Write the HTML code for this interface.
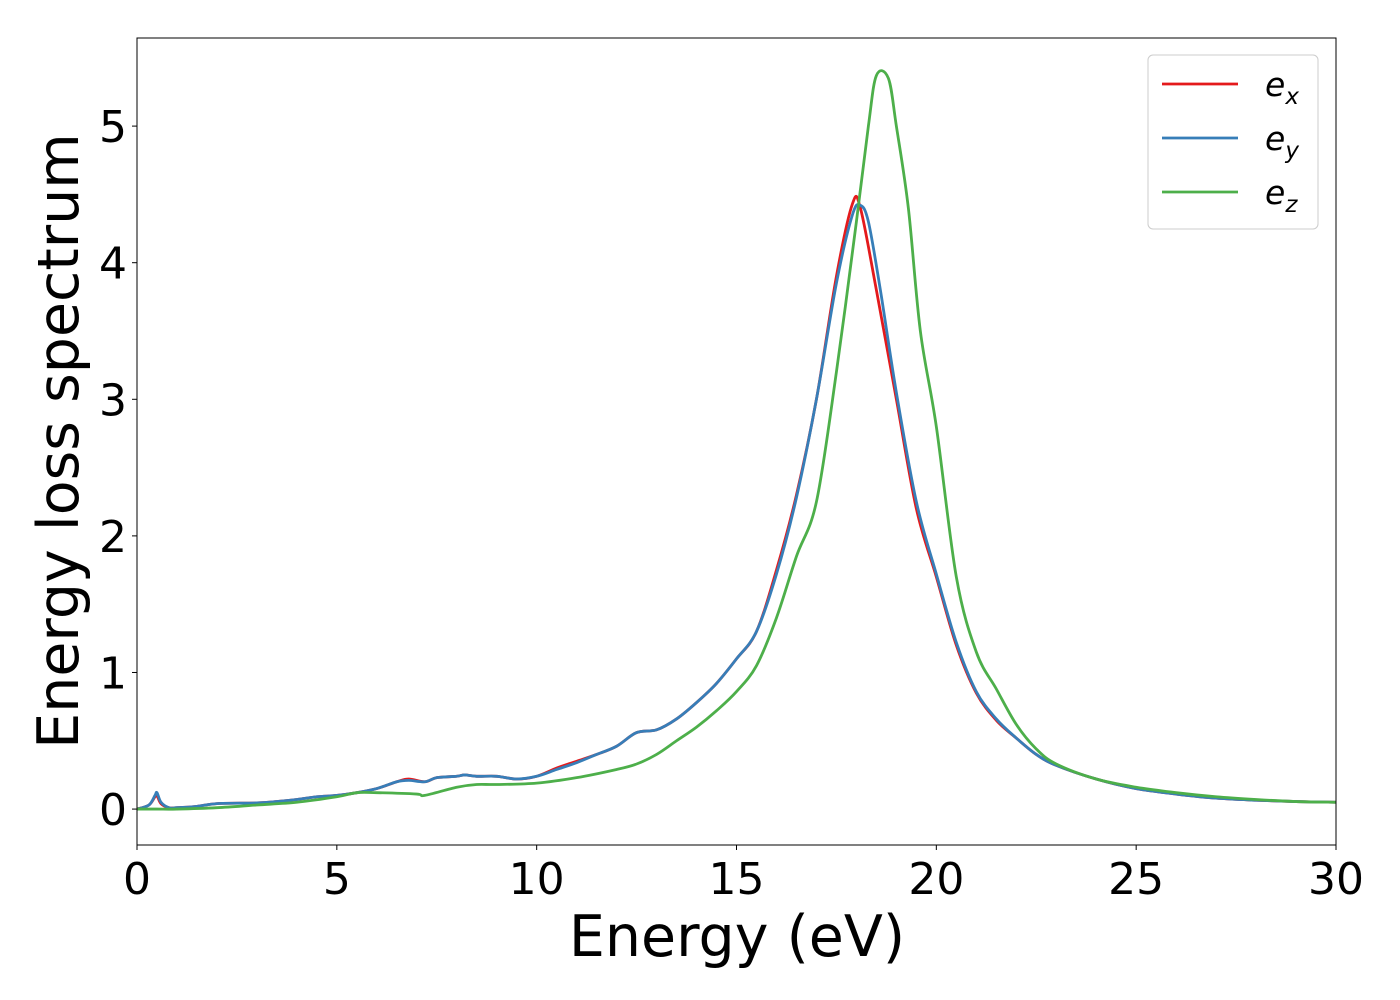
<!DOCTYPE html>
<html><head><meta charset="utf-8"><style>
body{margin:0;background:#fff;}
svg{display:block;font-family:"DejaVu Sans","Liberation Sans",sans-serif;}
</style></head><body>
<svg id="chart" width="1400" height="1000" viewBox="0 0 1400 1000">
<g id="plot"></g>
<g id="axes"></g>
</svg>
<script>
const exX=[0,0.3,0.45,0.5,0.6,0.8,1,1.5,2,3,3.5,4,4.5,5,5.5,6,6.5,6.8,7.2,7.5,8,8.2,8.5,9,9.5,10,10.5,11,11.5,12,12.5,13,13.5,14,14.5,15,15.5,16,16.5,17,17.5,17.9,18.1,18.5,19,19.5,20,20.5,21,21.5,22,22.5,23,24,25,26,27,28,29,30];
const exY=[0,0.03,0.09,0.1,0.04,0.01,0.01,0.02,0.04,0.045,0.055,0.07,0.09,0.1,0.12,0.15,0.2,0.22,0.2,0.23,0.24,0.25,0.24,0.24,0.22,0.24,0.3,0.35,0.4,0.46,0.56,0.58,0.66,0.78,0.92,1.1,1.3,1.75,2.3,3.0,3.9,4.43,4.4,3.8,3.0,2.2,1.7,1.2,0.85,0.65,0.52,0.4,0.32,0.22,0.15,0.11,0.08,0.065,0.055,0.05];
const eyX=[0,0.3,0.45,0.5,0.6,0.8,1,1.5,2,3,3.5,4,4.5,5,5.5,6,6.5,6.8,7.2,7.5,8,8.2,8.5,9,9.5,10,10.5,11,11.5,12,12.5,13,13.5,14,14.5,15,15.5,16,16.5,17,17.5,17.9,18.1,18.3,18.6,19,19.5,20,20.5,21,21.5,22,22.5,23,24,25,26,27,28,29,30];
const eyY=[0,0.03,0.1,0.12,0.05,0.01,0.01,0.02,0.04,0.045,0.055,0.07,0.09,0.1,0.12,0.15,0.2,0.21,0.2,0.23,0.24,0.25,0.24,0.24,0.22,0.24,0.29,0.34,0.4,0.46,0.56,0.58,0.66,0.78,0.92,1.1,1.3,1.72,2.28,3.0,3.85,4.35,4.42,4.3,3.8,3.05,2.25,1.72,1.22,0.86,0.66,0.52,0.4,0.32,0.22,0.15,0.11,0.08,0.065,0.055,0.05];
const ezX=[0,0.5,1,2,3,4,5,5.5,6,7,7.2,8,8.5,9,10,11,12,12.5,13,13.5,14,14.5,15,15.5,16,16.5,17,17.5,18,18.3,18.5,18.8,19,19.3,19.6,20,20.5,21,21.5,22,22.5,23,24,25,26,27,28,29,30];
const ezY=[0,0,0,0.01,0.03,0.05,0.09,0.12,0.12,0.11,0.1,0.16,0.18,0.18,0.19,0.23,0.29,0.33,0.4,0.5,0.6,0.72,0.86,1.05,1.4,1.85,2.25,3.2,4.3,5.0,5.37,5.35,5.0,4.4,3.5,2.8,1.7,1.15,0.88,0.62,0.44,0.33,0.22,0.16,0.12,0.09,0.07,0.055,0.05];
const xTicks=[0,5,10,15,20,25,30];
const yTicks=[0,1,2,3,4,5];
const L=137,R=1336,T=38,B=845;
const xMin=0,xMax=30,yMin=-0.263,yMax=5.645;
const sx=v=>L+(v-xMin)/(xMax-xMin)*(R-L);
const sy=v=>B-(v-yMin)/(yMax-yMin)*(B-T);
const NS="http://www.w3.org/2000/svg";
function mk(tag,parent){const e=document.createElementNS(NS,tag);parent.appendChild(e);return e;}
function pathFor(xs,ys){
  const p=xs.map((x,i)=>[sx(x),sy(ys[i])]);
  let d="M"+p[0][0]+","+p[0][1];
  for(let i=0;i<p.length-1;i++){
    const p0=p[Math.max(i-1,0)],p1=p[i],p2=p[i+1],p3=p[Math.min(i+2,p.length-1)];
    const c1=[p1[0]+(p2[0]-p0[0])/6,p1[1]+(p2[1]-p0[1])/6];
    const c2=[p2[0]-(p3[0]-p1[0])/6,p2[1]-(p3[1]-p1[1])/6];
    d+=" C"+c1+" "+c2+" "+p2;
  }
  return d;
}
const plot=document.getElementById('plot');
const axes=document.getElementById('axes');
const series=[[exX,exY,'#e41a1c','series-ex'],[eyX,eyY,'#377eb8','series-ey'],[ezX,ezY,'#4daf4a','series-ez']];
series.forEach(s=>{
  const p=mk('path',plot);
  
  
  p.setAttribute('d',pathFor(s[0],s[1]));
  p.setAttribute('fill','none');p.setAttribute('stroke',s[2]);p.setAttribute('stroke-width','2.8');p.setAttribute('stroke-linejoin','round');
});
const frame=mk('rect',axes);


frame.setAttribute('x',L);frame.setAttribute('y',T);frame.setAttribute('width',R-L);frame.setAttribute('height',B-T);
frame.setAttribute('fill','none');frame.setAttribute('stroke','#000');frame.setAttribute('stroke-width','1');
xTicks.forEach(v=>{
  const t=mk('line',axes);
  
  
  t.setAttribute('x1',sx(v));t.setAttribute('x2',sx(v));t.setAttribute('y1',B);t.setAttribute('y2',B+5);t.setAttribute('stroke','#000');
  const l=mk('text',axes);
  
  
  l.setAttribute('x',sx(v));l.setAttribute('y',B+49);l.setAttribute('text-anchor','middle');l.setAttribute('font-size','44');
  l.textContent=v;
});
yTicks.forEach(v=>{
  const t=mk('line',axes);
  
  
  t.setAttribute('x1',L-5);t.setAttribute('x2',L);t.setAttribute('y1',sy(v));t.setAttribute('y2',sy(v));t.setAttribute('stroke','#000');
  const l=mk('text',axes);
  
  
  l.setAttribute('x',L-10);l.setAttribute('y',sy(v)+16);l.setAttribute('text-anchor','end');l.setAttribute('font-size','44');
  l.textContent=v;
});
</script>
<svg style="position:absolute;left:0;top:0" width="1400" height="1000">
<text x="737" y="956" text-anchor="middle" font-size="57" font-family="DejaVu Sans, sans-serif">Energy (eV)</text>
<text transform="translate(78,441) rotate(-90)" text-anchor="middle" font-size="57" font-family="DejaVu Sans, sans-serif">Energy loss spectrum</text>
<g font-family="DejaVu Sans, sans-serif" font-style="italic">
<rect x="1148" y="55" width="170" height="174" rx="5" fill="#fff" stroke="#ccc" stroke-width="1"/>
<line x1="1162" x2="1238" y1="84" y2="84" stroke="#e41a1c" stroke-width="2.8"/>
<text x="1265" y="96" font-size="33">e<tspan font-size="23" dy="8">x</tspan></text>
<line x1="1162" x2="1238" y1="138" y2="138" stroke="#377eb8" stroke-width="2.8"/>
<text x="1265" y="150" font-size="33">e<tspan font-size="23" dy="8">y</tspan></text>
<line x1="1162" x2="1238" y1="192" y2="192" stroke="#4daf4a" stroke-width="2.8"/>
<text x="1265" y="204" font-size="33">e<tspan font-size="23" dy="8">z</tspan></text>
</g>
</svg>
</body></html>
